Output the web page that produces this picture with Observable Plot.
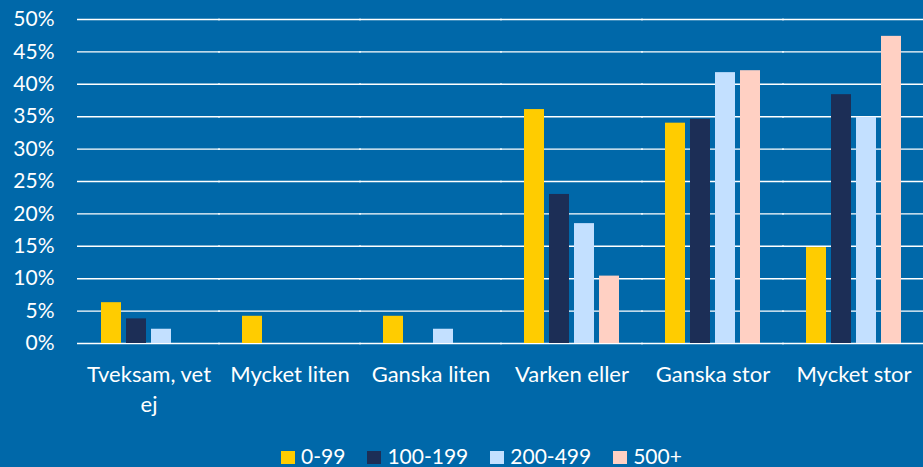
<!DOCTYPE html>
<html>
<head>
<meta charset="utf-8">
<script src="https://cdn.jsdelivr.net/npm/d3@7"></script>
<script src="https://cdn.jsdelivr.net/npm/@observablehq/plot@0.6"></script>
<style>
  html, body { margin: 0; padding: 0; background: #0068A9; overflow: hidden; }
  #chart { width: 923px; height: 467px; position: relative; font-family: Lato, sans-serif; }
  #legend { display: flex; justify-content: center; padding-left: 40px; margin-top: 13px;
            font-family: Lato, sans-serif; font-size: 21px; color: white; line-height: 25px; }
  #legend .item { display: flex; align-items: center; margin-right: 22px; }
  #legend .item:last-child { margin-right: 0; }
  #legend .sw { display: inline-block; width: 14px; height: 13px; margin-right: 6px; margin-top: 3px; }
</style>
</head>
<body>
<div id="chart"></div>
<script>
const categories = ["Tveksam, vet ej", "Mycket liten", "Ganska liten", "Varken eller", "Ganska stor", "Mycket stor"];
const categoryLabels = ["Tveksam, vet\nej", "Mycket liten", "Ganska liten", "Varken eller", "Ganska stor", "Mycket stor"];
const series = ["0-99", "100-199", "200-499", "500+"];
const colors = ["#FFCC00", "#1C2E56", "#C3E0FF", "#FFD0C3"];
const values0_99 = [6.3, 4.2, 4.2, 36.1, 34.0, 14.8];
const values100_199 = [3.8, 0, 0, 23.0, 34.6, 38.4];
const values200_499 = [2.2, 0, 2.2, 18.5, 41.8, 34.9];
const values500 = [0, 0, 0, 10.4, 42.1, 47.4];
const yTicks = [0, 5, 10, 15, 20, 25, 30, 35, 40, 45, 50];

const seriesValues = [values0_99, values100_199, values200_499, values500];
const data = [];
categories.forEach((c, i) => {
  series.forEach((s, j) => {
    const v = seriesValues[j][i];
    if (v > 0) data.push({category: c, series: s, value: v});
  });
});
const labelOf = new Map(categories.map((c, i) => [c, categoryLabels[i]]));

const plot = Plot.plot({
  width: 923,
  height: 430,
  marginLeft: 78,
  marginRight: 0,
  marginTop: 19,
  marginBottom: 87,
  style: {background: "transparent", color: "white", fontFamily: "Lato, sans-serif", fontSize: "21px", overflow: "visible"},
  fx: {domain: categories, range: [76, 926], paddingInner: 0.3145, paddingOuter: 0.157, label: null},
  x: {domain: series, paddingInner: 0.216, paddingOuter: 0, axis: null},
  y: {domain: [0, 50], axis: null},
  color: {domain: series, range: colors},
  marks: [
    Plot.ruleY(yTicks, {stroke: "white", strokeWidth: 1.4, insetLeft: -23, insetRight: -23}),
    Plot.barY(data, {fx: "category", x: "series", y: "value", fill: "series"}),
    Plot.axisY({ticks: yTicks, tickFormat: d => d + "%", tickSize: 0, tickPadding: 46, fontSize: 21, label: null}),
    Plot.axisFx({anchor: "bottom", tickSize: 0, tickPadding: 17, lineHeight: 1.36, fontSize: 22, label: null,
                 tickFormat: d => labelOf.get(d)})
  ]
});
document.getElementById("chart").appendChild(plot);

const legend = d3.select("#chart").append("div").attr("id", "legend");
series.forEach((s, i) => {
  const it = legend.append("div").attr("class", "item");
  it.append("span").attr("class", "sw").style("background", colors[i]);
  it.append("span").text(s);
});
</script>
</body>
</html>
